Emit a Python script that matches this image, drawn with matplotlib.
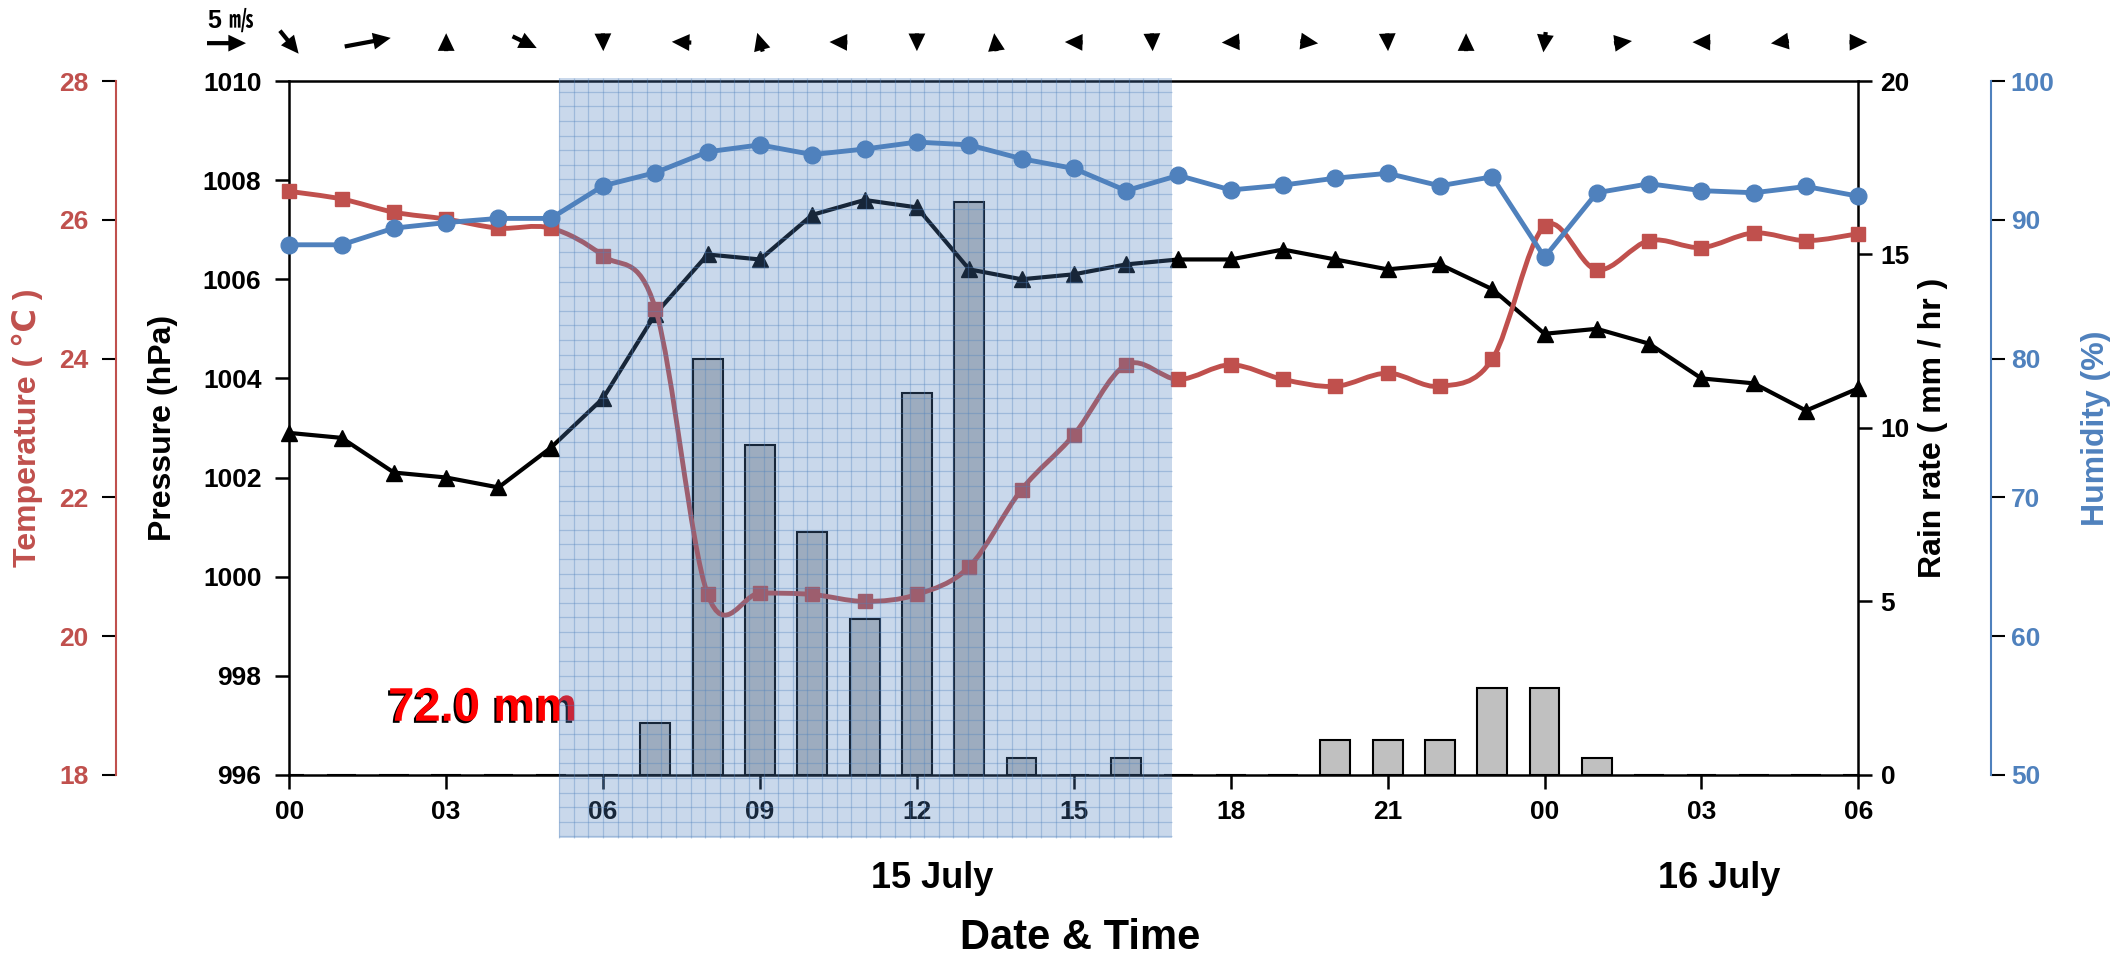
import numpy as np
import matplotlib
matplotlib.use("Agg")
import matplotlib.pyplot as plt
import matplotlib.patheffects as pe
from matplotlib.path import Path
from matplotlib.patches import PathPatch, Rectangle
from matplotlib.transforms import blended_transform_factory

# hourly data, 15 July 00h .. 16 July 06h
hours = np.arange(31)
pressure = [1002.9, 1002.8, 1002.1, 1002.0, 1001.8, 1002.6, 1003.6, 1005.3, 1006.5, 1006.4,
            1007.3, 1007.6, 1007.45, 1006.2, 1006.0, 1006.1, 1006.3, 1006.4, 1006.4, 1006.6,
            1006.4, 1006.2, 1006.3, 1005.8, 1004.9, 1005.0, 1004.7, 1004.0, 1003.9, 1003.35, 1003.8]
temperature = [26.41, 26.30, 26.11, 26.01, 25.88, 25.88, 25.48, 24.72, 20.60, 20.62,
               20.60, 20.50, 20.60, 21.00, 22.11, 22.90, 23.91, 23.70, 23.91, 23.70,
               23.60, 23.79, 23.60, 23.99, 25.91, 25.28, 25.70, 25.60, 25.81, 25.70, 25.80]
humidity = [88.2, 88.2, 89.4, 89.8, 90.1, 90.1, 92.45, 93.4, 94.9, 95.4,
            94.7, 95.1, 95.6, 95.4, 94.4, 93.7, 92.1, 93.2, 92.15, 92.5,
            93.0, 93.35, 92.45, 93.1, 87.3, 91.95, 92.6, 92.1, 91.95, 92.4, 91.7]
rain = [0, 0, 0, 0, 0, 0, 0, 1.5, 12, 9.5, 7, 4.5, 11, 16.5, 0.5, 0, 0.5, 0, 0, 0,
        1, 1, 1, 2.5, 2.5, 0.5, 0, 0, 0, 0, 0]

# wind every 1.5 h (u, v in m/s)
wind_hours = np.arange(0, 30.1, 1.5)
wind_u = [2.4, 5.9, 0.0, 3.1, 0.05, -2.5, -0.7, -2.3, 0.0, -0.3, -2.3, 0.1, -2.3, 2.3, 0.1, 0.0, -0.3, 2.3, -2.3, -2.3, 2.3]
wind_v = [-2.95, 1.1, 2.3, -1.5, -2.3, 0.1, 2.4, 0.05, -2.3, 2.3, 0.05, -2.3, -0.1, -0.3, -2.3, 2.3, -2.6, 0.3, 0.0, -0.3, 0.0]

xtick_pos = list(range(0, 31, 3))
xtick_lab = ["00", "03", "06", "09", "12", "15", "18", "21", "00", "03", "06"]

RED = "#C0504D"
BLUE = "#4F81BD"

plt.rcParams["font.family"] = ["Liberation Sans", "DejaVu Sans"]
plt.rcParams["font.weight"] = "bold"


def smooth_path(x, y):
    # excel-like smoothed line (cardinal bezier)
    x = np.asarray(x, float)
    y = np.asarray(y, float)
    verts = [(x[0], y[0])]
    codes = [Path.MOVETO]
    n = len(x)
    for i in range(n - 1):
        a = i - 1 if i > 0 else i
        d = i + 2 if i + 2 < n else i + 1
        c1 = (x[i] + (x[i + 1] - x[a]) / 6, y[i] + (y[i + 1] - y[a]) / 6)
        c2 = (x[i + 1] - (x[d] - x[i]) / 6, y[i + 1] - (y[d] - y[i]) / 6)
        verts += [c1, c2, (x[i + 1], y[i + 1])]
        codes += [Path.CURVE4] * 3
    return Path(verts, codes)


fig = plt.figure(figsize=(21.27, 9.59), dpi=100)
L, B, W, H = 0.136, 0.192, 0.7377, 0.7235
ax = fig.add_axes([L, B, W, H])
ax_p = ax.twinx()
ax_t = ax.twinx()
ax_h = ax.twinx()

# rain bars
ax.bar(hours, rain, width=0.57, color="#C0C0C0", edgecolor="black", linewidth=1.5, zorder=2)
ax.set_xlim(0, 30)
ax.set_ylim(0, 20)
ax.set_yticks([0, 5, 10, 15, 20])
ax.yaxis.tick_right()
ax.set_xticks(xtick_pos)
ax.set_xticklabels(xtick_lab)
for s in ax.spines.values():
    s.set_linewidth(1.8)
ax.tick_params(axis="both", direction="out", length=10, width=1.8, labelsize=19, pad=8)
ax.tick_params(axis="y", pad=6)

# pressure
ax_p.plot(hours, pressure, color="black", lw=3, marker="^", ms=11, clip_on=False, zorder=3)
ax_p.set_ylim(996, 1010)
ax_p.set_yticks(range(996, 1011, 2))
ax_p.yaxis.tick_left()
ax_p.tick_params(axis="y", direction="out", length=10, width=1.8, labelsize=19, pad=10)
for s in ax_p.spines.values():
    s.set_visible(False)

# temperature (smoothed)
ax_t.add_patch(PathPatch(smooth_path(hours, temperature), facecolor="none", edgecolor=RED,
                         lw=3.5, clip_on=False, zorder=3))
ax_t.plot(hours, temperature, ls="none", marker="s", ms=10, color=RED, clip_on=False, zorder=4)
ax_t.set_ylim(18, 28)
ax_t.set_yticks(range(18, 29, 2))
ax_t.yaxis.tick_left()
for s in ax_t.spines.values():
    s.set_visible(False)
ax_t.spines["left"].set_visible(True)
ax_t.spines["left"].set_position(("axes", -0.1103))
ax_t.spines["left"].set_color(RED)
ax_t.spines["left"].set_linewidth(1.5)
ax_t.tick_params(axis="y", direction="out", length=10, width=1.5, color="black",
                 labelcolor=RED, labelsize=19, pad=10)

# humidity
ax_h.plot(hours, humidity, color=BLUE, lw=3.5, marker="o", ms=12, clip_on=False, zorder=3)
ax_h.set_ylim(50, 100)
ax_h.set_yticks(range(50, 101, 10))
for s in ax_h.spines.values():
    s.set_visible(False)
ax_h.spines["right"].set_visible(True)
ax_h.spines["right"].set_position(("axes", 1.0848))
ax_h.spines["right"].set_color(BLUE)
ax_h.spines["right"].set_linewidth(1.5)
ax_h.tick_params(axis="y", direction="out", length=10, width=1.5, color="black",
                 labelcolor=BLUE, labelsize=19, pad=4)

ax.yaxis.tick_right()

# shaded rain period with graph-paper grid
blend = blended_transform_factory(ax_h.transData, ax_h.transAxes)
x0, x1 = 5.16, 16.87
y0, y1 = -0.091, 1.005
ax_h.add_patch(Rectangle((x0, y0), x1 - x0, y1 - y0, transform=blend, facecolor=BLUE,
                         alpha=0.3, edgecolor="none", clip_on=False, zorder=10))
ax_px = H * 959
hour_px = W * 2127 / 30
step = 14.6
gx = 6 + np.arange(-5, 60) * step / hour_px
gx = gx[(gx > x0) & (gx < x1)]
ax_h.vlines(gx, y0, y1, transform=blend, colors=BLUE, alpha=0.35, lw=0.9, clip_on=False, zorder=11)
gy = 1 - (10.7 + np.arange(0, 60) * step) / ax_px
gy = gy[gy > y0]
ax_h.hlines(gy, x0, x1, transform=blend, colors=BLUE, alpha=0.35, lw=0.9, clip_on=False, zorder=11)

# total rain
ax.text(1.89, 0.078, "72.0 mm", transform=blended_transform_factory(ax.transData, ax.transAxes),
        color="red", fontsize=34, ha="left", va="baseline", zorder=5,
        path_effects=[pe.SimplePatchShadow(offset=(-1.5, -1.5), shadow_rgbFace="black", alpha=1),
                      pe.Normal()])

# date labels and axis titles
bx = blended_transform_factory(ax.transData, ax.transAxes)
ax.text(12.29, (775 - 879) / ax_px, "15 July", transform=bx, ha="center", va="center", fontsize=26)
ax.text(27.34, (775 - 879) / ax_px, "16 July", transform=bx, ha="center", va="center", fontsize=26)
fig.text(0.508, 0.022, "Date & Time", ha="center", va="center", fontsize=30)
yc = B + H / 2
fig.text(0.0127, yc, "Temperature ( ℃ )", color=RED, rotation=90, ha="center", va="center", fontsize=23)
fig.text(0.0766, yc, "Pressure (hPa)", rotation=90, ha="center", va="center", fontsize=23)
fig.text(0.9088, yc, "Rain rate ( mm / hr )", rotation=90, ha="center", va="center", fontsize=23)
fig.text(0.9854, yc, "Humidity (%)", color=BLUE, rotation=90, ha="center", va="center", fontsize=23)

# wind arrows strip
ax_w = fig.add_axes([0, 0.90, 1, 0.10])
ax_w.set_xlim(-L * 2127 / hour_px, (1 - L) * 2127 / hour_px)
ax_w.set_ylim(0, 1)
ax_w.axis("off")
qkw = dict(angles="uv", scale_units="dots", scale=5 / 39, units="dots", width=4.2,
           headwidth=4.0, headlength=4.2, headaxislength=4.2, minshaft=0.9,
           pivot="middle", color="black")
ax_w.quiver(wind_hours, np.full(len(wind_hours), 0.56), wind_u, wind_v, **qkw)
ax_w.quiver([-1.2], [0.55], [5], [0], **qkw)
ax_w.text(-1.55, 0.78, "5 ㎧", ha="left", va="center", fontsize=18,
          family=["Liberation Sans", "Noto Sans CJK JP", "DejaVu Sans"])

fig.savefig("out.png", dpi=100)
